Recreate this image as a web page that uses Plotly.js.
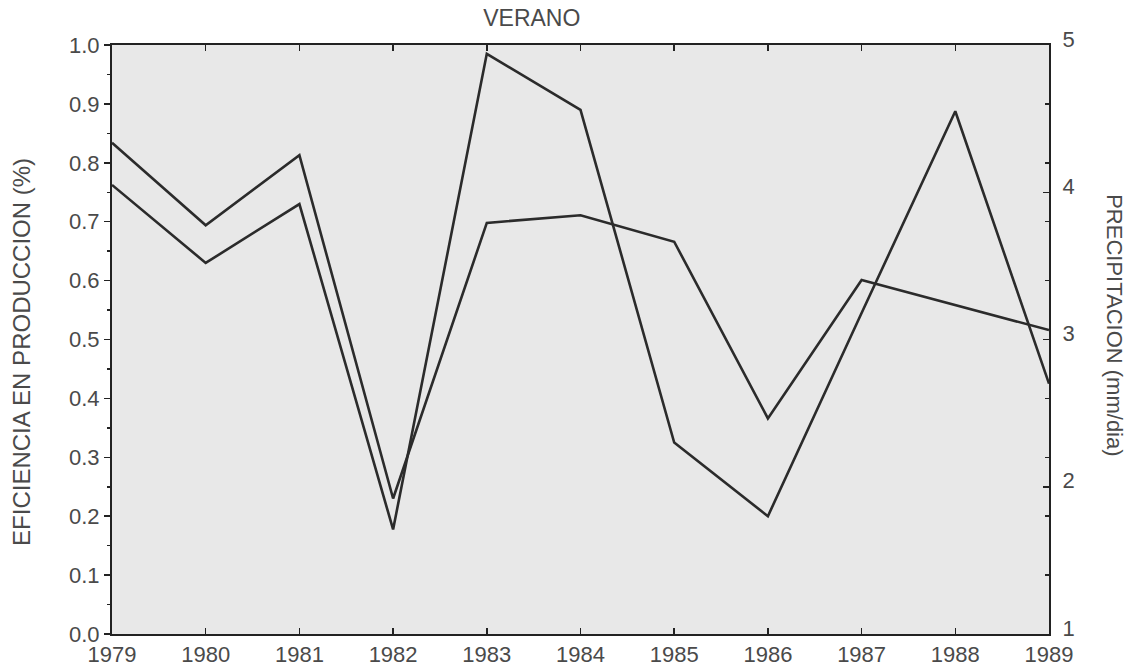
<!DOCTYPE html>
<html>
<head>
<meta charset="utf-8">
<script src="https://cdn.plot.ly/plotly-3.0.1.min.js"></script>
<style>
  html, body { margin: 0; padding: 0; background: #ffffff; }
  #chart { width: 1136px; height: 672px; }
</style>
</head>
<body>
<div id="chart"></div>
<script>
// ---- Data ----
const years = [1979, 1980, 1981, 1982, 1983, 1984, 1985, 1986, 1987, 1988, 1989];
// Efficiency in production (%) - left axis
const eficiencia = [0.834, 0.694, 0.813, 0.230, 0.698, 0.711, 0.666, 0.366, 0.601, 0.558, 0.516];
// Precipitation (mm/day) - right axis
const precipitacion = [4.05, 3.52, 3.92, 1.71, 4.94, 4.56, 2.30, 1.80, 3.18, 4.55, 2.70];

const chartTitle = 'VERANO';
const leftTitle = 'EFICIENCIA EN PRODUCCION (%)';
const rightTitle = 'PRECIPITACION (mm/dia)';

const fontFamily = '"Liberation Sans", Arial, Helvetica, sans-serif';
const lineColor = '#2b2b2b';
const textColor = '#4a4a4a';

const traces = [
  {
    x: years, y: eficiencia, type: 'scatter', mode: 'lines',
    line: { color: lineColor, width: 2.6 }, name: 'Eficiencia', hoverinfo: 'x+y'
  },
  {
    x: years, y: precipitacion, type: 'scatter', mode: 'lines', yaxis: 'y2',
    line: { color: lineColor, width: 2.6 }, name: 'Precipitación', hoverinfo: 'x+y'
  }
];

const layout = {
  width: 1136, height: 672,
  margin: { l: 112, r: 87, t: 45, b: 38 },
  paper_bgcolor: '#ffffff',
  plot_bgcolor: '#e8e8e8',
  showlegend: false,
  font: { family: fontFamily, color: textColor, size: 22 },
  title: {
    text: chartTitle, font: { family: fontFamily, size: 23, color: textColor },
    x: 0.448, xref: 'paper', xanchor: 'center',
    y: 0.973, yref: 'container', yanchor: 'middle'
  },
  xaxis: {
    range: [1979, 1989], dtick: 1, tick0: 1979,
    showgrid: false, zeroline: false,
    showline: true, linecolor: '#222', linewidth: 2, mirror: 'ticks',
    ticks: 'inside', ticklen: 6, tickcolor: '#222', tickwidth: 1.5,
    tickfont: { family: fontFamily, size: 22, color: textColor }
  },
  yaxis: {
    range: [0, 1], dtick: 0.1, tick0: 0, tickformat: '.1f',
    showgrid: false, zeroline: false,
    showline: true, linecolor: '#222', linewidth: 2,
    ticks: 'outside', ticklen: 6, tickcolor: '#222', tickwidth: 1.5,
    minor: { dtick: 0.05, ticks: 'outside', ticklen: 3, tickcolor: '#222', showgrid: false },
    tickfont: { family: fontFamily, size: 22, color: textColor }
  },
  yaxis2: {
    overlaying: 'y', side: 'right',
    range: [1, 5], dtick: 1, tick0: 1,
    showgrid: false, zeroline: false,
    showline: true, linecolor: '#222', linewidth: 2,
    ticks: 'inside', ticklen: 6, tickcolor: '#222', tickwidth: 1.5,
    ticklabelstandoff: 7, ticklabelshift: -6,
    minor: { dtick: 0.4, tick0: 1, ticks: 'inside', ticklen: 4, tickcolor: '#222', showgrid: false },
    tickfont: { family: fontFamily, size: 22, color: textColor }
  },
  annotations: [
    {
      text: leftTitle, xref: 'paper', yref: 'paper', x: -0.096, y: 0.479,
      xanchor: 'center', yanchor: 'middle', textangle: -90, showarrow: false,
      font: { family: fontFamily, size: 24, color: textColor }
    },
    {
      text: rightTitle, xref: 'paper', yref: 'paper', x: 1.07, y: 0.525,
      xanchor: 'center', yanchor: 'middle', textangle: 90, showarrow: false,
      font: { family: fontFamily, size: 22, color: textColor }
    }
  ]
};

Plotly.newPlot('chart', traces, layout, { displayModeBar: false, staticPlot: true });
</script>
</body>
</html>
